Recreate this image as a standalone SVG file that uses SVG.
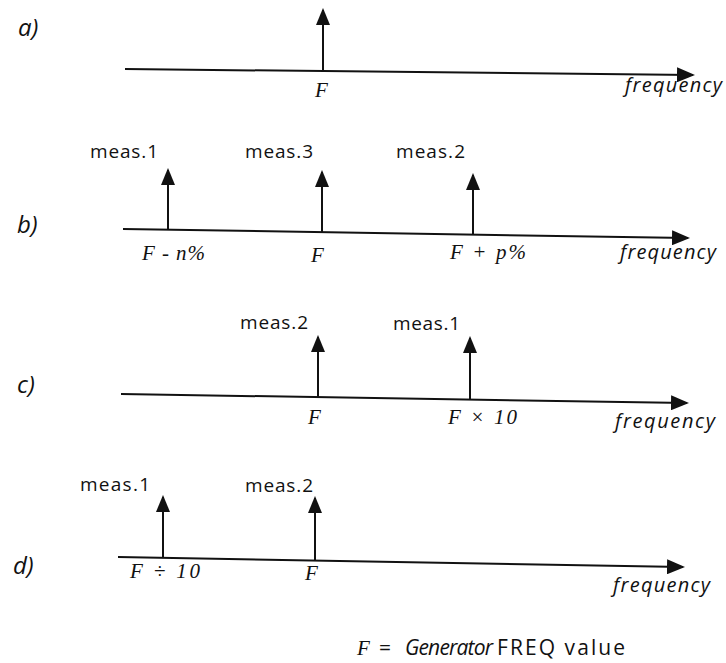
<svg xmlns="http://www.w3.org/2000/svg" width="726" height="663" viewBox="0 0 726 663">
<style>
.ax{stroke:#111;stroke-width:2;fill:none;marker-end:url(#axHead)}
.st{stroke:#111;stroke-width:2;fill:none;marker-end:url(#stHead)}
.lbl{font-family:"Open Sans","Liberation Sans",sans-serif;font-style:italic;font-size:24px;fill:#111}
.frq{font-family:"Open Sans","Liberation Sans",sans-serif;font-style:italic;font-size:20px;fill:#111}
.meas{font-family:"Open Sans","Liberation Sans",sans-serif;font-size:19px;fill:#111}
.fv{font-family:"Liberation Serif","DejaVu Serif",serif;font-style:italic;font-size:21px;fill:#111}
.foot{font-family:"Open Sans","Liberation Sans",sans-serif;font-size:21px;fill:#111}
</style>
<defs>
<marker id="axHead" markerUnits="userSpaceOnUse" viewBox="0 0 18 15" markerWidth="18" markerHeight="15" refX="16" refY="7.5" orient="auto"><path d="M0,0 L18,7.5 L0,15 z" fill="#111"/></marker>
<marker id="stHead" markerUnits="userSpaceOnUse" viewBox="0 0 17 14" markerWidth="17" markerHeight="14" refX="15" refY="7" orient="auto"><path d="M0,0 L17,7 L0,14 z" fill="#111"/></marker>
</defs>
<rect width="726" height="663" fill="#fff"/>

<g id="connectors">
<line class="ax" x1="125" y1="69" x2="693" y2="75"/>
<line class="st" x1="323" y1="70" x2="323" y2="10"/>

<line class="ax" x1="123" y1="229" x2="688" y2="238"/>
<line class="st" x1="168" y1="230" x2="168" y2="170"/>
<line class="st" x1="322" y1="232" x2="322" y2="172"/>
<line class="st" x1="473" y1="235" x2="473" y2="175"/>

<line class="ax" x1="121" y1="394" x2="687" y2="403"/>
<line class="st" x1="318" y1="397" x2="318" y2="337"/>
<line class="st" x1="470" y1="399" x2="470" y2="338"/>

<line class="ax" x1="118" y1="557" x2="683" y2="567"/>
<line class="st" x1="163" y1="558" x2="163" y2="497"/>
<line class="st" x1="315" y1="560" x2="315" y2="498"/>
</g>

<g id="panel-a">
<text class="lbl" x="18" y="36">a)</text>
<text class="fv" x="315" y="97">F</text>
<text class="frq" x="625" y="92" textLength="97" lengthAdjust="spacing">frequency</text>
</g>

<g id="panel-b">
<text class="lbl" x="17" y="233">b)</text>
<text class="meas" x="90" y="158" textLength="68" lengthAdjust="spacing">meas.1</text>
<text class="meas" x="245" y="158" textLength="68" lengthAdjust="spacing">meas.3</text>
<text class="meas" x="396" y="158" textLength="69" lengthAdjust="spacing">meas.2</text>
<text class="fv" x="142" y="260" textLength="63" lengthAdjust="spacing">F - n%</text>
<text class="fv" x="311" y="262">F</text>
<text class="fv" x="450" y="259" textLength="76" lengthAdjust="spacing">F + p%</text>
<text class="frq" x="620" y="259" textLength="96" lengthAdjust="spacing">frequency</text>
</g>

<g id="panel-c">
<text class="lbl" x="17" y="393">c)</text>
<text class="meas" x="240" y="329" textLength="68" lengthAdjust="spacing">meas.2</text>
<text class="meas" x="393" y="330" textLength="67" lengthAdjust="spacing">meas.1</text>
<text class="fv" x="308" y="424">F</text>
<text class="fv" x="448" y="424" textLength="69" lengthAdjust="spacing">F × 10</text>
<text class="frq" x="615" y="428" textLength="100" lengthAdjust="spacing">frequency</text>
</g>

<g id="panel-d">
<text class="lbl" x="13" y="574">d)</text>
<text class="meas" x="80" y="491" textLength="70" lengthAdjust="spacing">meas.1</text>
<text class="meas" x="245" y="492" textLength="68" lengthAdjust="spacing">meas.2</text>
<text class="fv" x="130" y="578" textLength="70" lengthAdjust="spacing">F ÷ 10</text>
<text class="fv" x="305" y="580">F</text>
<text class="frq" x="613" y="592" textLength="97" lengthAdjust="spacing">frequency</text>
</g>

<g id="legend">
<text class="fv" x="357" y="655">F</text>
<text class="foot" x="379" y="655">=</text>
<text class="foot" x="405" y="655" font-style="italic" textLength="88" lengthAdjust="spacing">Generator</text>
<text class="foot" x="497" y="655" textLength="128" lengthAdjust="spacing">FREQ value</text>
</g>
</svg>
